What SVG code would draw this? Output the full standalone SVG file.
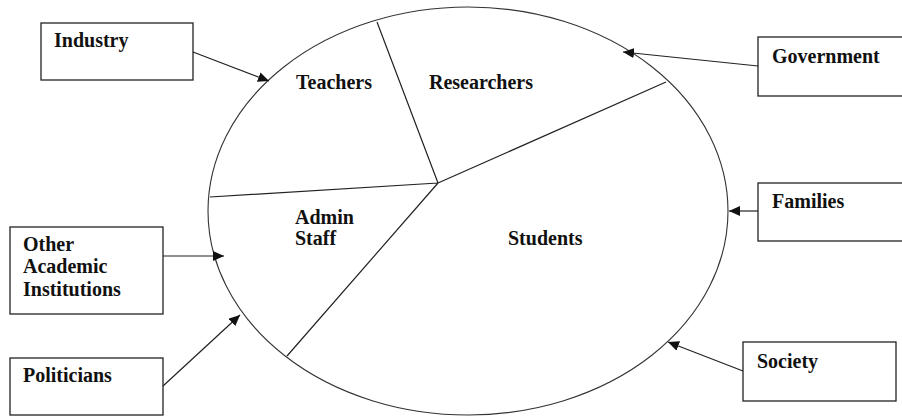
<svg xmlns="http://www.w3.org/2000/svg" width="902" height="416" viewBox="0 0 902 416">
<style>
.box{fill:#fff;stroke:#222;stroke-width:1.3}
.t{font-family:'Liberation Serif','DejaVu Serif',serif;font-weight:700;font-size:20px;fill:#111}
.ell{fill:none;stroke:#333;stroke-width:1.1}
.div{stroke:#222;stroke-width:1.2;fill:none}
.con{stroke:#222;stroke-width:1.2;fill:none;marker-end:url(#ah)}
</style>
<defs>
<marker id="ah" markerUnits="userSpaceOnUse" markerWidth="12" markerHeight="10" viewBox="0 0 12 10" refX="11" refY="5" orient="auto">
<path d="M0,0 L11,5 L0,10 z" fill="#111"/>
</marker>
</defs>
<rect width="902" height="416" fill="#fff"/>
<g id="circle">
<ellipse class="ell" cx="468" cy="211" rx="260" ry="204"/>
<path class="div" d="M438,183 L377,22 M438,183 L210,197 M438,183 L666,82 M438,183 L287,356"/>
<text class="t" x="296" y="89">Teachers</text>
<text class="t" x="429" y="89">Researchers</text>
<text class="t" x="295" y="224">Admin</text>
<text class="t" x="295" y="245">Staff</text>
<text class="t" x="508" y="245">Students</text>
</g>
<g id="industry">
<rect class="box" x="41" y="23" width="152" height="57"/>
<text class="t" x="54" y="47">Industry</text>
</g>
<g id="government">
<rect class="box" x="758" y="37" width="150" height="59"/>
<text class="t" x="772" y="63">Government</text>
</g>
<g id="families">
<rect class="box" x="758" y="183" width="150" height="58"/>
<text class="t" x="772" y="208">Families</text>
</g>
<g id="society">
<rect class="box" x="743" y="342" width="153" height="59"/>
<text class="t" x="757" y="368">Society</text>
</g>
<g id="other-academic">
<rect class="box" x="10" y="227" width="153" height="87"/>
<text class="t" x="23" y="251">Other</text>
<text class="t" x="23" y="273">Academic</text>
<text class="t" x="23" y="296">Institutions</text>
</g>
<g id="politicians">
<rect class="box" x="10" y="358" width="153" height="57"/>
<text class="t" x="23" y="382">Politicians</text>
</g>
<g id="connectors">
<path class="con" d="M193,52 L269,81"/>
<path class="con" d="M758,66 L623,52"/>
<path class="con" d="M163,256 L224,256"/>
<path class="con" d="M163,386 L240,315"/>
<path class="con" d="M758,211 L729,211"/>
<path class="con" d="M743,371 L668,342"/>
</g>
</svg>
